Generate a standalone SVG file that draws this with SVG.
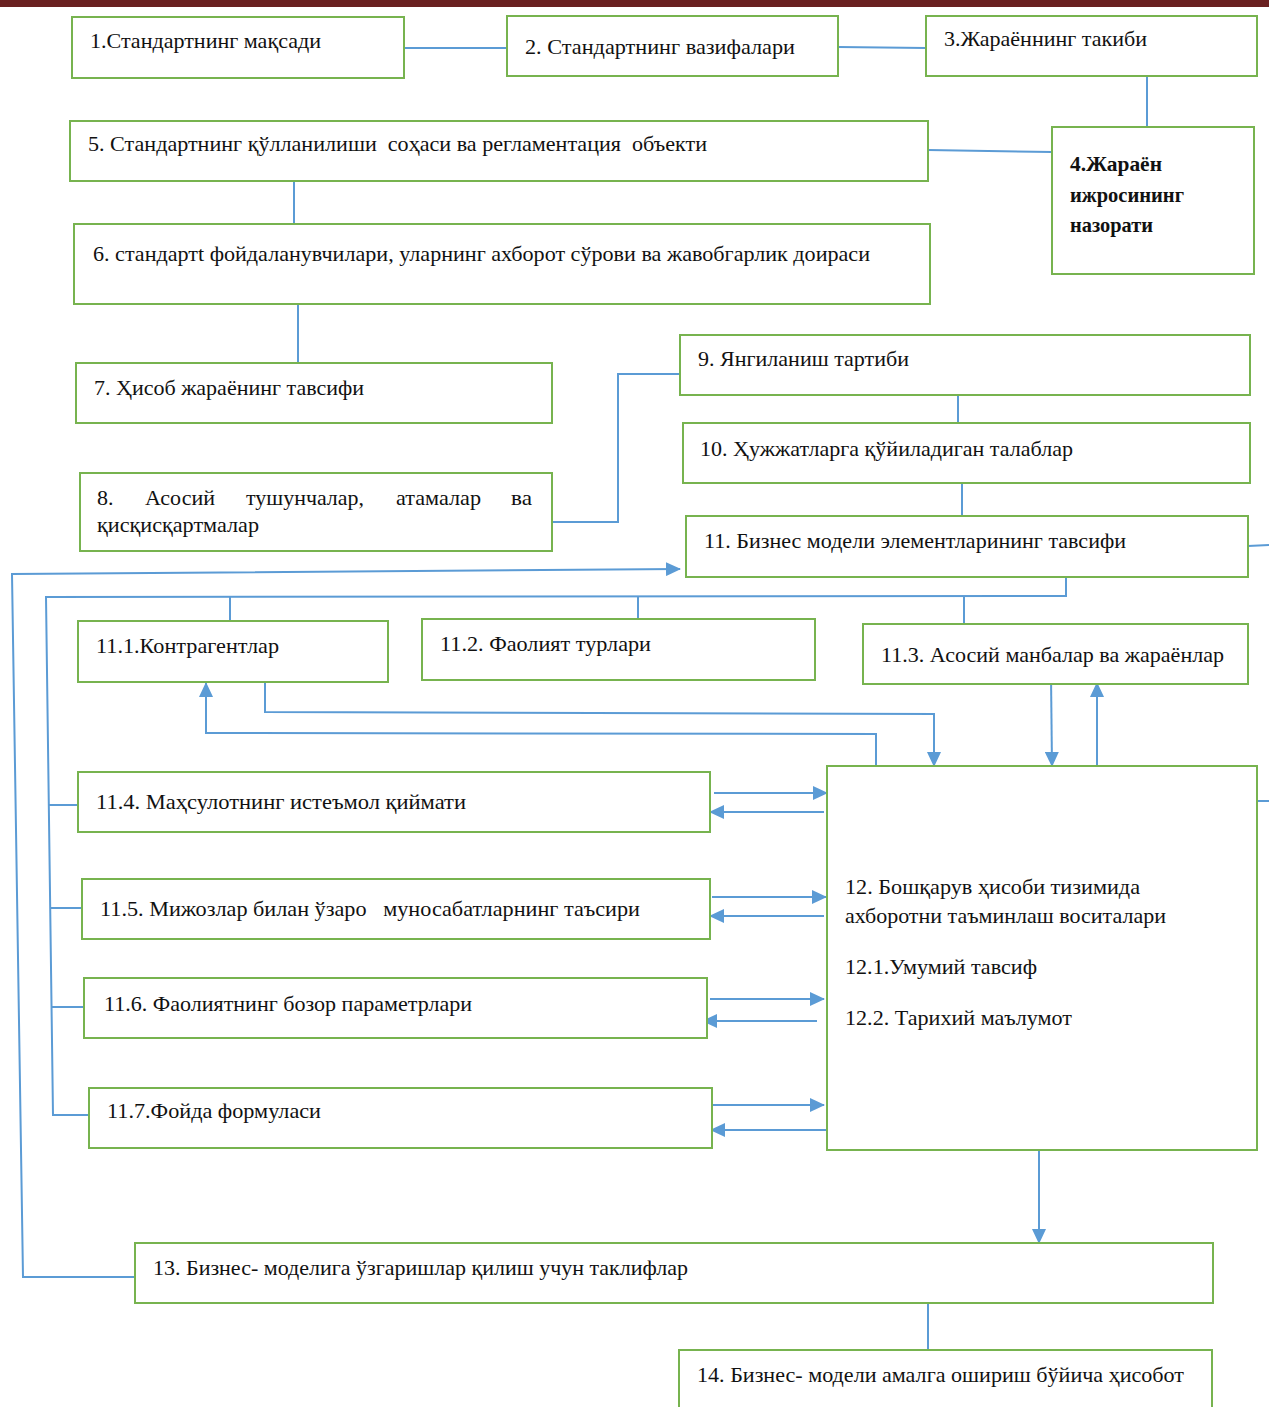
<svg xmlns="http://www.w3.org/2000/svg" width="1269" height="1407" viewBox="0 0 1269 1407">
<style>
.b{fill:#fff;stroke:#77b34f;stroke-width:2}
.t{font-family:"Liberation Serif","Times New Roman",serif;font-size:22px;fill:#111;white-space:pre}
.tb{font-family:"Liberation Serif","Times New Roman",serif;font-size:22px;fill:#111;font-weight:bold}
.c{fill:none;stroke:#5b9bd5;stroke-width:2}
</style>
<defs>
<marker id="a" markerUnits="userSpaceOnUse" markerWidth="15" markerHeight="14" refX="14" refY="7" orient="auto">
<path d="M0,0 L15,7 L0,14 Z" fill="#5b9bd5"/>
</marker>
</defs>
<rect x="0" y="0" width="1269" height="1407" fill="#fff"/>
<rect x="0" y="0" width="1269" height="7" fill="#6a2121"/>
<g id="connectors">
<line class="c" x1="404" y1="48" x2="507" y2="48"/>
<line class="c" x1="838" y1="47" x2="926" y2="48"/>
<line class="c" x1="1147" y1="72" x2="1147" y2="127"/>
<line class="c" x1="928" y1="150" x2="1052" y2="152"/>
<line class="c" x1="294" y1="181" x2="294" y2="224"/>
<line class="c" x1="298" y1="304" x2="298" y2="363"/>
<polyline class="c" points="552,522 618,522 618,374 680,374"/>
<line class="c" x1="958" y1="393" x2="958" y2="423"/>
<line class="c" x1="962" y1="483" x2="962" y2="516"/>
<line class="c" x1="1248" y1="546" x2="1269" y2="545"/>
<line class="c" x1="1257" y1="801" x2="1269" y2="801"/>
<polyline class="c" points="135,1277 23,1277 12,574 680,569" marker-end="url(#a)"/>
<polyline class="c" points="1066,577 1066,596 46,597 53,1115 90,1115"/>
<line class="c" x1="230" y1="596" x2="230" y2="621"/>
<line class="c" x1="638" y1="596" x2="638" y2="619"/>
<line class="c" x1="964" y1="596" x2="964" y2="624"/>
<line class="c" x1="48" y1="805" x2="78" y2="805"/>
<line class="c" x1="51" y1="908" x2="82" y2="908"/>
<line class="c" x1="52" y1="1007" x2="84" y2="1007"/>
<polyline class="c" points="265,682 265,712 934,714 934,766" marker-end="url(#a)"/>
<polyline class="c" points="876,766 876,734 206,733 206,683" marker-end="url(#a)"/>
<line class="c" x1="1051" y1="676" x2="1052" y2="766" marker-end="url(#a)"/>
<line class="c" x1="1097" y1="768" x2="1097" y2="683" marker-end="url(#a)"/>
<line class="c" x1="714" y1="793" x2="827" y2="793" marker-end="url(#a)"/>
<line class="c" x1="824" y1="812" x2="710" y2="812" marker-end="url(#a)"/>
<line class="c" x1="712" y1="897" x2="826" y2="897" marker-end="url(#a)"/>
<line class="c" x1="824" y1="916" x2="710" y2="916" marker-end="url(#a)"/>
<line class="c" x1="710" y1="999" x2="824" y2="999" marker-end="url(#a)"/>
<line class="c" x1="817" y1="1021" x2="703" y2="1021" marker-end="url(#a)"/>
<line class="c" x1="712" y1="1105" x2="824" y2="1105" marker-end="url(#a)"/>
<line class="c" x1="826" y1="1130" x2="711" y2="1130" marker-end="url(#a)"/>
<line class="c" x1="1039" y1="1150" x2="1039" y2="1243" marker-end="url(#a)"/>
<line class="c" x1="928" y1="1303" x2="928" y2="1350"/>
</g>
<g id="n1"><rect class="b" x="72" y="17" width="332" height="61"/><text class="t" x="90" y="48" textLength="231" lengthAdjust="spacingAndGlyphs">1.Стандартнинг мақсади</text></g>
<g id="n2"><rect class="b" x="507" y="16" width="331" height="60"/><text class="t" x="525" y="54" textLength="270" lengthAdjust="spacingAndGlyphs">2. Стандартнинг вазифалари</text></g>
<g id="n3"><rect class="b" x="926" y="16" width="331" height="60"/><text class="t" x="944" y="46" textLength="203" lengthAdjust="spacingAndGlyphs">3.Жараённинг такиби</text></g>
<g id="n4"><rect class="b" x="1052" y="127" width="202" height="147"/>
<text class="tb" x="1070" y="171" textLength="92" lengthAdjust="spacingAndGlyphs">4.Жараён</text>
<text class="tb" x="1070" y="202" textLength="114" lengthAdjust="spacingAndGlyphs">ижросининг</text>
<text class="tb" x="1070" y="232" textLength="83" lengthAdjust="spacingAndGlyphs">назорати</text></g>
<g id="n5"><rect class="b" x="70" y="121" width="858" height="60"/><text class="t" x="88" y="151" textLength="619" lengthAdjust="spacingAndGlyphs">5. Стандартнинг қўлланилиши  соҳаси ва регламентация  объекти</text></g>
<g id="n6"><rect class="b" x="74" y="224" width="856" height="80"/><text class="t" x="93" y="261" textLength="777" lengthAdjust="spacingAndGlyphs">6. стандартt фойдаланувчилари, уларнинг ахборот сўрови ва жавобгарлик доираси</text></g>
<g id="n7"><rect class="b" x="76" y="363" width="476" height="60"/><text class="t" x="94" y="395" textLength="270" lengthAdjust="spacingAndGlyphs">7. Ҳисоб жараёнинг тавсифи</text></g>
<g id="n8"><rect class="b" x="80" y="473" width="472" height="78"/>
<text class="t" x="97" y="505">8.</text><text class="t" x="145" y="505" textLength="70" lengthAdjust="spacingAndGlyphs">Асосий</text><text class="t" x="246" y="505" textLength="118" lengthAdjust="spacingAndGlyphs">тушунчалар,</text><text class="t" x="396" y="505" textLength="85" lengthAdjust="spacingAndGlyphs">атамалар</text><text class="t" x="511" y="505" textLength="21" lengthAdjust="spacingAndGlyphs">ва</text>
<text class="t" x="97" y="532" textLength="162" lengthAdjust="spacingAndGlyphs">қисқисқартмалар</text></g>
<g id="n9"><rect class="b" x="680" y="335" width="570" height="60"/><text class="t" x="698" y="366" textLength="211" lengthAdjust="spacingAndGlyphs">9. Янгиланиш тартиби</text></g>
<g id="n10"><rect class="b" x="683" y="423" width="567" height="60"/><text class="t" x="700" y="456" textLength="373" lengthAdjust="spacingAndGlyphs">10. Ҳужжатларга қўйиладиган талаблар</text></g>
<g id="n11"><rect class="b" x="686" y="516" width="562" height="61"/><text class="t" x="704" y="548" textLength="422" lengthAdjust="spacingAndGlyphs">11. Бизнес модели элементларининг тавсифи</text></g>
<g id="n11_1"><rect class="b" x="78" y="621" width="310" height="61"/><text class="t" x="96" y="653" textLength="183" lengthAdjust="spacingAndGlyphs">11.1.Контрагентлар</text></g>
<g id="n11_2"><rect class="b" x="422" y="619" width="393" height="61"/><text class="t" x="440" y="651" textLength="211" lengthAdjust="spacingAndGlyphs">11.2. Фаолият турлари</text></g>
<g id="n11_3"><rect class="b" x="863" y="624" width="385" height="60"/><text class="t" x="881" y="662" textLength="343" lengthAdjust="spacingAndGlyphs">11.3. Асосий манбалар ва жараёнлар</text></g>
<g id="n11_4"><rect class="b" x="78" y="772" width="632" height="60"/><text class="t" x="96" y="809" font-size="24" textLength="370" lengthAdjust="spacingAndGlyphs">11.4. Маҳсулотнинг истеъмол қиймати</text></g>
<g id="n11_5"><rect class="b" x="82" y="879" width="628" height="60"/><text class="t" x="100" y="916" textLength="540" lengthAdjust="spacingAndGlyphs">11.5. Мижозлар билан ўзаро   муносабатларнинг таъсири</text></g>
<g id="n11_6"><rect class="b" x="84" y="978" width="623" height="60"/><text class="t" x="104" y="1011" textLength="368" lengthAdjust="spacingAndGlyphs">11.6. Фаолиятнинг бозор параметрлари</text></g>
<g id="n11_7"><rect class="b" x="89" y="1088" width="623" height="60"/><text class="t" x="107" y="1118" textLength="214" lengthAdjust="spacingAndGlyphs">11.7.Фойда формуласи</text></g>
<g id="n12"><rect class="b" x="827" y="766" width="430" height="384"/>
<text class="t" x="845" y="894" textLength="295" lengthAdjust="spacingAndGlyphs">12. Бошқарув ҳисоби тизимида</text>
<text class="t" x="845" y="923" textLength="321" lengthAdjust="spacingAndGlyphs">ахборотни таъминлаш воситалари</text>
<text class="t" x="845" y="974" textLength="192" lengthAdjust="spacingAndGlyphs">12.1.Умумий тавсиф</text>
<text class="t" x="845" y="1025" textLength="227" lengthAdjust="spacingAndGlyphs">12.2. Тарихий маълумот</text></g>
<g id="n13"><rect class="b" x="135" y="1243" width="1078" height="60"/><text class="t" x="153" y="1275" textLength="535" lengthAdjust="spacingAndGlyphs">13. Бизнес- моделига ўзгаришлар қилиш учун таклифлар</text></g>
<g id="n14"><rect class="b" x="679" y="1350" width="533" height="70"/><text class="t" x="697" y="1382" textLength="487" lengthAdjust="spacingAndGlyphs">14. Бизнес- модели амалга ошириш бўйича ҳисобот</text></g>
</svg>
